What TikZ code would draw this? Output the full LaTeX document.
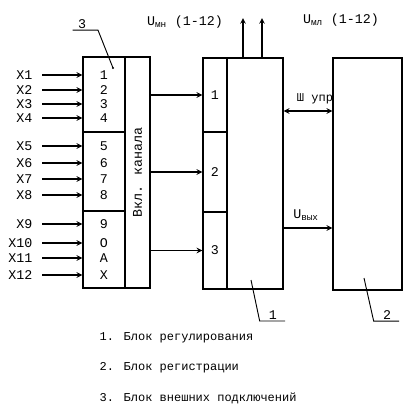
\documentclass[tikz,border=0pt]{standalone}
\usepackage{fontspec}
\setmainfont{Liberation Mono}
\usetikzlibrary{positioning,fit,arrows}

\begin{document}
\begin{tikzpicture}[x=0.75pt,y=-0.75pt,>=stealth,
  blk/.style={draw,line width=1.1pt,inner sep=0pt},
  lbl/.style={font=\fontsize{10}{12}\selectfont,inner sep=1pt},
  lgd/.style={font=\fontsize{9}{11}\selectfont,anchor=west},
  lead/.style={line width=0.7pt},
  sig/.style={->,line width=0.9pt}]
\useasboundingbox (0,0) rectangle (413,415);
\node[blk,fit={(83,57) (125,132)}] (b3a) {};
\node[blk,fit={(83,132) (125,211)}] (b3b) {};
\node[blk,fit={(83,211) (125,288)}] (b3c) {};
\node[blk,fit={(125,57) (150,288)}] (b3k) {};
\node[lbl,rotate=90] (vk) at (b3k) {Вкл. канала};
\node[blk,fit={(203,58) (227,132)}] (b1a) {};
\node[blk,fit={(203,132) (227,212)}] (b1b) {};
\node[blk,fit={(203,212) (227,289)}] (b1c) {};
\node[blk,fit={(227,58) (283,289)}] (b1) {};
\node[blk,fit={(333,58) (402,290)}] (b2) {};
\node[lbl] (n1) at (b1a) {1};
\node[lbl] (n2) at (b1b) {2};
\node[lbl] (n3) at (b1c) {3};
\foreach \n/\d/\y in {1/1/75,2/2/90,3/3/104,4/4/118,5/5/146,6/6/163,7/7/179,8/8/195,9/9/224,10/O/243,11/A/258,12/X/275}{
  \node[lbl,anchor=east] (x\n) at (34,\y) {X\n};
  \node[lbl] (d\n) at (104,\y) {\d};
  \draw[sig] ([xshift=6pt]x\n.east) -- (x\n.east -| b3a.west);
}
\draw[sig] (b1a.west -| b3k.east) -- (b1a.west);
\draw[sig] (b1b.west -| b3k.east) -- (b1b.west);
\draw[sig] (b1c.west -| b3k.east) -- (b1c.west);
\coordinate (o1) at (243,18);
\coordinate (o2) at (262,18);
\draw[sig] (b1.north -| o1) -- (o1);
\draw[sig] (b1.north -| o2) -- (o2);
\node[lbl] (umn) at (185,22) {U\textsubscript{мн} (1-12)};
\node[lbl] (uml) at (341,20) {U\textsubscript{мл} (1-12)};
\coordinate (sh) at (300,111);
\draw[sig,<->] (sh -| b1.east) -- (sh -| b2.west);
\node[font=\fontsize{9}{11}\selectfont] (shl) at (315,99) {Ш упр};
\coordinate (uv) at (300,228);
\draw[sig] (uv -| b1.east) -- (uv -| b2.west);
\node[lbl] (uvl) at (306,215) {U\textsubscript{вых}};
\node[lbl] (t3) at (82,24) {3};
\coordinate (k3) at (113,68);
\draw[lead] ([xshift=-7pt]t3.south) -- ([xshift=12pt]t3.south) -- (k3);
\fill (k3) circle (1.2);
\node[lbl] (t1) at (273,315) {1};
\coordinate (k1) at (251,280);
\draw[lead] (k1) -- ([xshift=-10pt]t1.south) -- ([xshift=9pt]t1.south);
\node[lbl] (t2) at (387,315) {2};
\coordinate (k2) at (364,278);
\draw[lead] (k2) -- ([xshift=-10pt]t2.south) -- ([xshift=9pt]t2.south);
\node[lgd] (g1) at (95,338) {1. Блок регулирования};
\node[lgd] (g2) at (95,368) {2. Блок регистрации};
\node[lgd] (g3) at (95,398) {3. Блок внешних подключений};
\end{tikzpicture}
\end{document}
